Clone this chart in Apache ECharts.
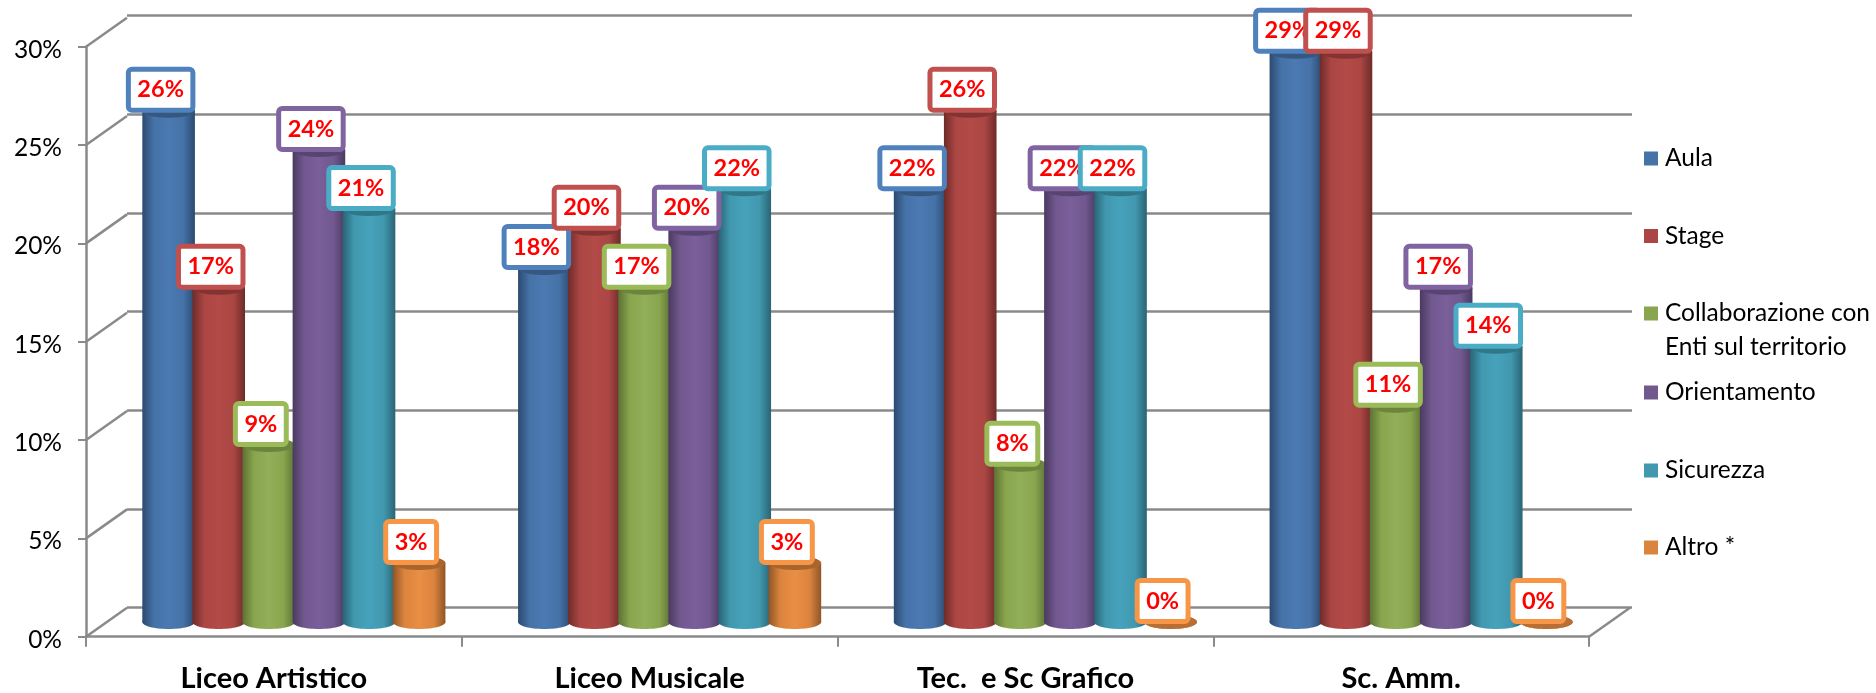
<!DOCTYPE html>
<html><head><meta charset="utf-8">
<style>html,body{margin:0;padding:0;background:#fff}#c{width:1876px;height:693px}</style>
<script src="https://cdn.jsdelivr.net/npm/echarts@6/dist/echarts.min.js"></script>
</head><body><div id="c"></div>
<script>
const categories = ['Liceo Artistico','Liceo Musicale','Tec.  e Sc Grafico','Sc. Amm.'];
const aula = [26,18,22,29];
const stage = [17,20,26,29];
const collaborazione = [9,17,8,11];
const orientamento = [24,20,22,17];
const sicurezza = [21,22,22,14];
const altro = [3,3,0,0];
const seriesNames = ['Aula','Stage','Collaborazione con Enti sul territorio','Orientamento','Sicurezza','Altro *'];
const seriesValues = [aula,stage,collaborazione,orientamento,sicurezza,altro];
const legendText = ['Aula','Stage','Collaborazione con','Orientamento','Sicurezza','Altro *'];
const legendCenters = [158,235.5,313,392,470,547];
const yTicks = [0,5,10,15,20,25,30];

const colors = ['#4572A7','#AA4643','#89A54E','#71588F','#4198AF','#DB843D'];
const lights = ['#4B79B2','#B34B48','#92AF59','#7A5F9A','#46A2BB','#E98E45'];
const darks  = ['#2C4A70','#6E2B29','#5C7234','#4A3A60','#2A6475','#8F5526'];
const caps   = ['#36587F','#833432','#6B853C','#574470','#317689','#A9652E'];
const borders= ['#4F81BD','#C0504D','#9BBB59','#8064A2','#4BACC6','#F79646'];
const FONT = 'Lato';
const DEPTH_X = 41, DEPTH_Y = 29, GRAY = '#8A8A8A';

function cylinder(i){
  return function(params, api){
    const cat = api.value(0), val = api.value(1);
    const band = api.size([1,0])[0];
    const step = band*0.8/6;
    const c = api.coord([cat,val]);
    const base = api.coord([cat,0]);
    const cx = c[0] + (i-2.5)*step;
    const w = step*1.05, rx = w/2, ry = 7;
    const grad = {type:'linear',x:0,y:0,x2:1,y2:0,colorStops:[
      {offset:0,color:darks[i]},{offset:0.22,color:colors[i]},{offset:0.5,color:lights[i]},
      {offset:0.78,color:colors[i]},{offset:1,color:darks[i]}]};
    const ch = [];
    ch.push({type:'ellipse',shape:{cx:cx,cy:base[1],rx:rx,ry:ry},style:{fill:grad},z2:i*2});
    if(val>0){
      ch.push({type:'rect',shape:{x:cx-rx,y:c[1],width:w,height:base[1]-c[1]},style:{fill:grad},z2:i*2});
    }
    ch.push({type:'ellipse',shape:{cx:cx,cy:c[1],rx:rx,ry:ry},
      style:{fill:val>0?caps[i]:'#B96F33'},z2:i*2+1});
    ch.push({type:'text',x:cx-8,y:c[1]-3,z2:100+i,style:{
      text:val+'%',fill:'#FF0000',font:'bold 23.5px '+FONT,align:'center',verticalAlign:'bottom',
      backgroundColor:'#fff',borderColor:borders[i],borderWidth:5,borderRadius:1,
      padding:[6,6.5,6,6.5]}});
    return {type:'group',children:ch};
  };
}

const floorAndSide = {
  type:'custom',xAxisIndex:0,yAxisIndex:0,silent:true,z:1,
  data:yTicks.map(v=>[0,v]),
  encode:{x:0,y:1},
  renderItem:function(params,api){
    const cs = params.coordSys;
    const y = api.coord([0,api.value(1)])[1];
    const ch = [{type:'line',shape:{x1:cs.x,y1:y,x2:cs.x+DEPTH_X,y2:y-DEPTH_Y},
      style:{stroke:GRAY,lineWidth:2.5}}];
    if(api.value(1)===0){
      ch.push({type:'line',shape:{x1:cs.x+cs.width,y1:y,x2:cs.x+cs.width+DEPTH_X,y2:y-DEPTH_Y},
        style:{stroke:GRAY,lineWidth:2.5}});
    }
    return {type:'group',children:ch};
  }
};

const option = {
  animation:false,
  backgroundColor:'#fff',
  textStyle:{fontFamily:FONT},
  grid:[
    {left:86,top:46.7,width:1503,height:590},
    {left:127,top:15.5,width:1505,height:592},
    {left:106,top:32,width:1503,height:590}
  ],
  xAxis:[
    {type:'category',gridIndex:0,data:categories,
     axisLine:{lineStyle:{color:GRAY,width:2.5}},
     axisTick:{show:true,length:10,lineStyle:{color:GRAY,width:2}},
     axisLabel:{color:'#000',fontWeight:'bold',fontSize:29,fontFamily:FONT,margin:27}},
    {type:'category',gridIndex:1,data:categories,axisLine:{show:false},axisTick:{show:false},axisLabel:{show:false}},
    {type:'category',gridIndex:2,data:categories,axisLine:{show:false},axisTick:{show:false},axisLabel:{show:false}}
  ],
  yAxis:[
    {type:'value',gridIndex:0,min:0,max:30,interval:5,
     axisLine:{show:true,lineStyle:{color:GRAY,width:2.5}},
     axisTick:{show:true,length:8,lineStyle:{color:GRAY,width:2}},
     axisLabel:{color:'#000',fontSize:24.5,fontFamily:FONT,margin:24,lineHeight:6,verticalAlign:'top',verticalAlignMinLabel:'top',verticalAlignMaxLabel:'top',formatter:'{value}%'},
     splitLine:{show:false}},
    {type:'value',gridIndex:1,min:0,max:30,interval:5,
     axisLine:{show:false},axisTick:{show:false},axisLabel:{show:false},
     splitLine:{show:true,lineStyle:{color:GRAY,width:2.5}}},
    {type:'value',gridIndex:2,min:0,max:30,interval:5,
     axisLine:{show:false},axisTick:{show:false},axisLabel:{show:false},splitLine:{show:false}}
  ],
  legend:seriesNames.map((n,i)=>({
    data:[n],orient:'vertical',left:1644,top:legendCenters[i]-12,padding:0,
    icon:'rect',itemWidth:14,itemHeight:14,itemGap:0,selectedMode:false,
    formatter:()=>legendText[i],
    textStyle:{color:'#000',fontSize:24.5,fontFamily:FONT,lineHeight:24,padding:[0,0,0,2]}
  })),
  graphic:[{type:'text',left:1665,top:334.5,style:{text:'Enti sul territorio',fill:'#000',font:'24.5px '+FONT}}],
  series:[floorAndSide].concat(seriesNames.map((n,i)=>({
    type:'custom',name:n,xAxisIndex:2,yAxisIndex:2,z:3,
    itemStyle:{color:colors[i]},
    encode:{x:0,y:1},
    data:seriesValues[i].map((v,k)=>[k,v]),
    renderItem:cylinder(i)
  })))
};
echarts.init(document.getElementById('c'),null,{renderer:'canvas'}).setOption(option);
</script></body></html>
